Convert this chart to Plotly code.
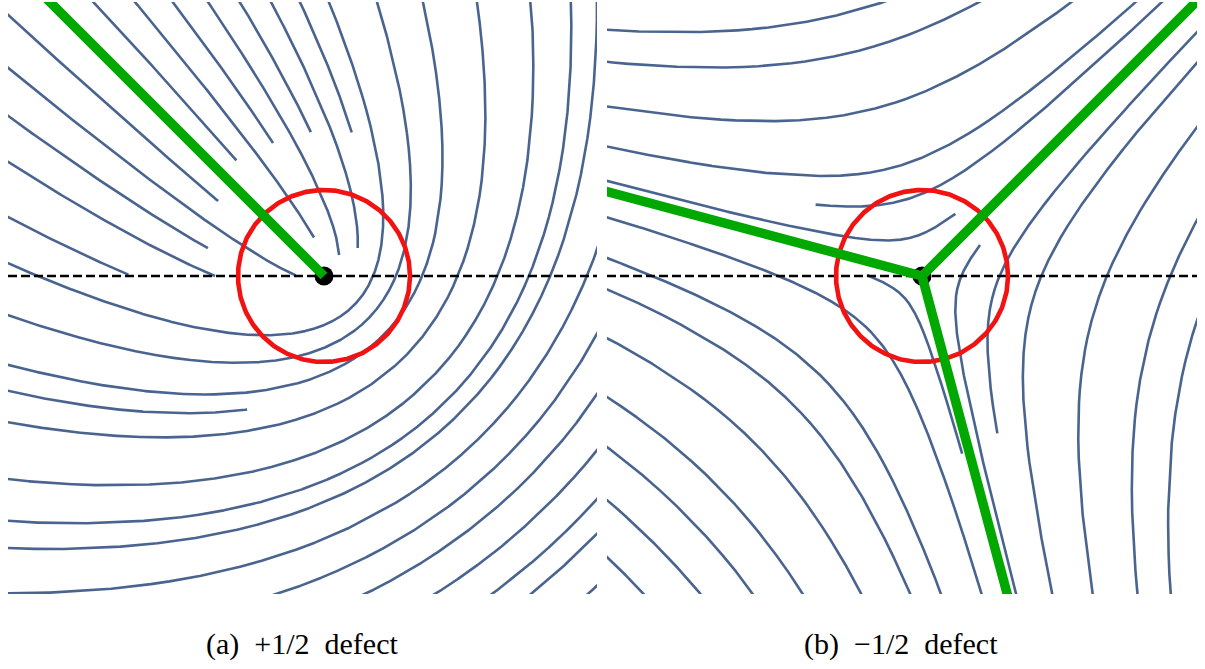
import numpy as np
import plotly.graph_objects as go

# ---- director fields: angle theta = k*phi + theta0 around a point defect ----
A_CHARGE, A_THETA0 = 0.5, 67.5      # +1/2 defect
B_CHARGE, B_THETA0 = -0.5, 67.5     # -1/2 defect
RING_RADIUS = 0.86                  # radius of the red loop around each core

# visible window of each panel (defect core at the origin)
A_XRANGE, A_YRANGE = [-3.16, 2.73], [-3.18, 2.74]
B_XRANGE, B_YRANGE = [-3.15, 2.75], [-3.18, 2.74]

# ---- streamlines of panel (a): start point -> end point (edge points run off-frame) ----
A_X0 = [-2.30, -1.89, -1.51, -1.16, -0.84, -0.53, -0.24,
        0.05, 0.53, 0.99, 1.53, 2.07, 2.47, 2.73, 2.73,
        -0.47, 0.41, 1.11, 1.68, 2.07, 2.64,
        -3.16, -3.16, -3.16, -3.16, -3.16, -3.16]
A_Y0 = [2.74, 2.74, 2.74, 2.74, 2.74, 2.74, 2.74,
        2.74, 2.74, 2.74, 2.74, 2.74, 2.74, 2.66, 0.26,
        -3.18, -3.18, -3.18, -3.18, -3.18, -3.18,
        2.61, 2.08, 1.60, 1.14, 0.59, -1.15]
A_X1 = [-0.87, -0.09, -0.51, 0.16, -0.13, 0.36, 0.29,
        -3.16, -3.16, -3.16, -3.16, -3.16, -3.16, -3.16, -3.16,
        2.73, 2.73, 2.73, 2.73, 2.73, 2.73,
        -1.06, -0.28, -1.16, -1.09, -1.97, -0.77]
A_Y1 = [1.16, 0.39, 1.33, 0.21, 1.44, 0.28, 1.44,
        0.09, -0.35, -0.87, -1.44, -2.01, -2.40, -2.82, -3.18,
        -0.56, -1.21, -1.74, -2.24, -2.56, -3.07,
        0.75, 0.01, 0.28, 0.00, -0.02, -1.33]

# ---- streamlines of panel (b) ----
B_X0 = [-3.15, -3.15, -3.15, -3.15, 2.40, -3.15,
        -3.15, -3.15, -3.15, -3.15, -3.15, -3.15, -3.15, -3.15, -0.55,
        0.58, 2.75, 2.75, 2.75, 2.75, 2.75]
B_Y0 = [2.46, 2.14, 1.69, 1.29, 2.74, 0.94,
        0.59, 0.18, -0.13, -0.62, -1.21, -1.71, -2.24, -2.81, 0.01,
        0.31, 2.44, 2.14, 1.49, 0.56, -0.44]
B_X1 = [-0.35, 0.62, 1.53, 2.09, -1.07, 0.35,
        0.66, 0.33, -0.08, -0.58, -1.17, -1.67, -2.21, -2.79, 0.42,
        0.90, 0.72, 1.30, 1.72, 2.19, 2.52]
B_Y1 = [2.74, 2.74, 2.74, 2.74, 0.65, 0.60,
        -3.18, -3.18, -3.18, -3.18, -3.18, -3.18, -3.18, -3.18, -1.77,
        -3.18, -1.58, -3.18, -3.18, -3.18, -3.18]

CAPTIONS = ["(a)\u00a0 +1/2\u00a0 defect", "(b)\u00a0 \u22121/2\u00a0 defect"]

STREAM_COLOR = "#4a6490"
GREEN = "#00a800"
RED = "#f21212"


def on_edge(x, y, xr, yr, tol=0.02):
    return (abs(x - xr[0]) < tol or abs(x - xr[1]) < tol or
            abs(y - yr[0]) < tol or abs(y - yr[1]) < tol)


def streamline(x0, y0, x1, y1, k, theta0, xr, yr):
    """Integral curve of theta = k*phi + theta0 through (x0, y0).

    Rotating by alpha = theta0/(1-k) gives the invariant
    r * |sin(m*phi')|**(1/m) = const, with m = 1 - k.
    The curve runs from (x0, y0) to the point nearest (x1, y1);
    an end lying on the window border keeps going out of view.
    """
    m = 1.0 - k
    alpha = np.radians(theta0) / m
    width = np.pi / m
    p0 = (np.arctan2(y0, x0) - alpha) % (2 * np.pi)
    sector = np.floor(p0 / width)
    lo, hi = sector * width, (sector + 1) * width
    const = np.hypot(x0, y0) * abs(np.sin(m * p0)) ** (1 / m)
    phi = np.linspace(lo + 1e-5, hi - 1e-5, 40000)
    r = const / np.abs(np.sin(m * phi)) ** (1 / m)
    keep = r < 9
    phi, r = phi[keep], r[keep]
    x = r * np.cos(phi + alpha)
    y = r * np.sin(phi + alpha)
    i0 = int(np.argmin(np.abs(phi - p0)))
    i1 = int(np.argmin(np.hypot(x - x1, y - y1)))
    open0 = on_edge(x0, y0, xr, yr)
    open1 = on_edge(x1, y1, xr, yr)
    if i0 <= i1:
        a = 0 if open0 else i0
        b = len(x) - 1 if open1 else i1
    else:
        a = 0 if open1 else i1
        b = len(x) - 1 if open0 else i0
    return x[a:b + 1], y[a:b + 1]


fig = go.Figure()

panels = [
    ("x", "y", A_CHARGE, A_THETA0, A_XRANGE, A_YRANGE, A_X0, A_Y0, A_X1, A_Y1),
    ("x2", "y2", B_CHARGE, B_THETA0, B_XRANGE, B_YRANGE, B_X0, B_Y0, B_X1, B_Y1),
]

for xa, ya, k, th0, xr, yr, X0, Y0, X1, Y1 in panels:
    # streamlines
    xs, ys = [], []
    for x0, y0, x1, y1 in zip(X0, Y0, X1, Y1):
        sx, sy = streamline(x0, y0, x1, y1, k, th0, xr, yr)
        xs += list(sx[::4]) + [sx[-1], None]
        ys += list(sy[::4]) + [sy[-1], None]
    fig.add_trace(go.Scatter(x=xs, y=ys, mode="lines", xaxis=xa, yaxis=ya,
                             line=dict(color=STREAM_COLOR, width=2.6),
                             hoverinfo="skip", showlegend=False))
    # horizontal reference line through the core
    fig.add_trace(go.Scatter(x=[xr[0], xr[1]], y=[0, 0], mode="lines",
                             xaxis=xa, yaxis=ya,
                             line=dict(color="black", width=2.6, dash="9px,4px"),
                             hoverinfo="skip", showlegend=False))
    # loop around the core
    t = np.linspace(0, 2 * np.pi, 361)
    fig.add_trace(go.Scatter(x=RING_RADIUS * np.cos(t), y=RING_RADIUS * np.sin(t),
                             mode="lines", xaxis=xa, yaxis=ya,
                             line=dict(color=RED, width=4.6),
                             hoverinfo="skip", showlegend=False))
    # core
    fig.add_trace(go.Scatter(x=[0], y=[0], mode="markers", xaxis=xa, yaxis=ya,
                             marker=dict(color="black", size=19),
                             hoverinfo="skip", showlegend=False))
    # radial directions where the director points at the core
    m = 1.0 - k
    n_rad = int(round(2 * m))
    gx, gy = [], []
    for n in range(n_rad):
        ang = np.radians(th0) / m + n * np.pi / m
        gx += [0, 9 * np.cos(ang), None]
        gy += [0, 9 * np.sin(ang), None]
    fig.add_trace(go.Scatter(x=gx, y=gy, mode="lines", xaxis=xa, yaxis=ya,
                             line=dict(color=GREEN, width=9.5),
                             hoverinfo="skip", showlegend=False))

W, H = 1205, 669
ax_common = dict(visible=False, showgrid=False, zeroline=False, fixedrange=True)
fig.update_layout(
    width=W, height=H,
    margin=dict(l=0, r=0, t=0, b=0),
    paper_bgcolor="white", plot_bgcolor="white",
    xaxis=dict(domain=[8 / W, 597 / W], range=A_XRANGE, **ax_common),
    yaxis=dict(domain=[1 - 594 / H, 1 - 2 / H], range=A_YRANGE, **ax_common),
    xaxis2=dict(domain=[607 / W, 1197 / W], range=B_XRANGE, **ax_common),
    yaxis2=dict(domain=[1 - 594 / H, 1 - 2 / H], range=B_YRANGE, **ax_common),
)

for cap, cx in zip(CAPTIONS, [302 / W, 901 / W]):
    fig.add_annotation(text=cap, x=cx, y=1 - 644 / H, xref="paper", yref="paper",
                       showarrow=False, xanchor="center", yanchor="middle",
                       font=dict(family="Liberation Serif", size=30, color="black"))

fig.write_html("out.html")
